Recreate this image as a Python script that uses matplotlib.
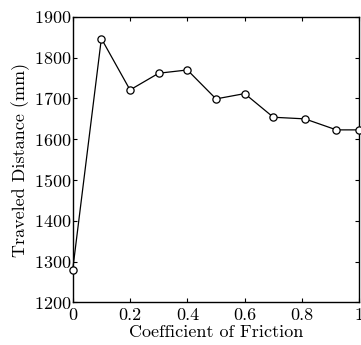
import matplotlib
matplotlib.use("Agg")
import matplotlib.pyplot as plt

# friction coefficient vs traveled distance
friction = [0.0, 0.1, 0.2, 0.3, 0.4, 0.5, 0.6, 0.7, 0.81, 0.92, 1.0]
distance = [1280, 1847, 1721, 1762, 1770, 1699, 1712, 1654, 1650, 1623, 1623]
x_ticks = [0, 0.2, 0.4, 0.6, 0.8, 1]
x_ticklabels = ["0", "0.2", "0.4", "0.6", "0.8", "1"]
y_ticks = [1200, 1300, 1400, 1500, 1600, 1700, 1800, 1900]

plt.rcParams["font.family"] = ["cmr10", "DejaVu Serif"]
plt.rcParams["axes.formatter.use_mathtext"] = True

fig = plt.figure(figsize=(3.61, 3.45), dpi=100)
ax = fig.add_axes([0.2014, 0.1238, 0.794, 0.827])

ax.plot(friction, distance, color="black", linewidth=0.9,
        marker="o", markersize=5.2, markerfacecolor="white",
        markeredgecolor="black", markeredgewidth=0.9, clip_on=False, zorder=3)

ax.set_xlim(0, 1)
ax.set_ylim(1200, 1900)
ax.set_xticks(x_ticks)
ax.set_xticklabels(x_ticklabels)
ax.set_yticks(y_ticks)
ax.tick_params(direction="in", top=True, right=True, length=3, width=0.8,
               labelsize=13)
ax.tick_params(axis="y", pad=1)
ax.tick_params(axis="x", pad=4)
for s in ax.spines.values():
    s.set_linewidth(1.0)

ax.set_xlabel("Coefficient of Friction", fontsize=13, labelpad=1)
ax.set_ylabel("Traveled Distance (mm)", fontsize=13, labelpad=3)

fig.savefig("out.png", dpi=100)
